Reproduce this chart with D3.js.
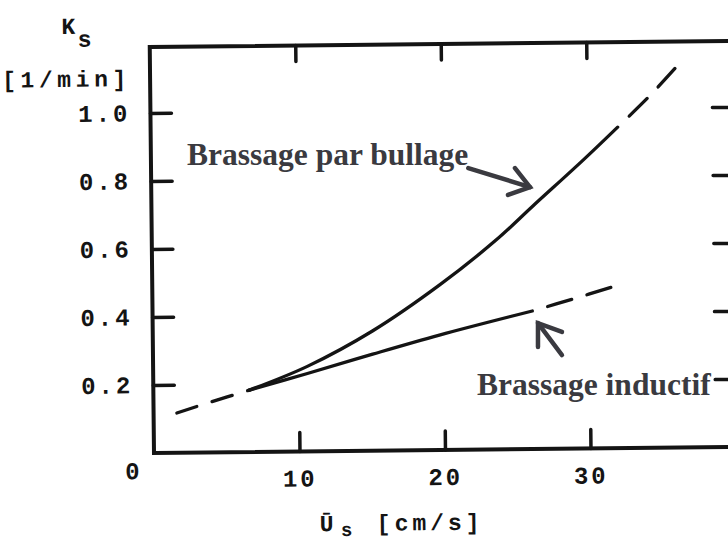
<!DOCTYPE html>
<html>
<head>
<meta charset="utf-8">
<script src="https://cdn.jsdelivr.net/npm/d3@7"></script>
<style>
  html, body { margin: 0; padding: 0; background: #fff; }
  svg { display: block; }
  .mono { font-family: "Liberation Mono", "DejaVu Sans Mono", monospace; font-weight: bold; fill: #141414; }
  .annot { font-family: "Liberation Serif", "Times New Roman", serif; font-weight: bold; fill: #3a3a40; }
</style>
</head>
<body>
<svg id="chart" width="728" height="542"></svg>
<script>
// ---------------- data ----------------
const xTicks = [10, 20, 30];
const xTickLabels = ["10", "20", "30"];
const yTicks = [0.2, 0.4, 0.6, 0.8, 1.0];
const yTickLabels = ["0.2", "0.4", "0.6", "0.8", "1.0"];

// common dashed start (extrapolation at low velocity)
const lowDashU = [1.6, 4.0, 6.6];
const lowDashK = [0.117, 0.149, 0.182];

// "Brassage par bullage" (gas stirring) - measured part
const bullageU = [6.6, 10.6, 15.1, 19.8, 23.7, 26.2, 29.7, 32.1];
const bullageK = [0.182, 0.250, 0.352, 0.487, 0.617, 0.714, 0.848, 0.944];
// extrapolated part
const bullageDashU = [32.1, 34.3, 36.3];
const bullageDashK = [0.944, 1.034, 1.125];

// "Brassage inductif" (induction stirring) - measured part
const inductifU = [6.6, 10.6, 15.1, 19.7, 26.1];
const inductifK = [0.182, 0.229, 0.284, 0.338, 0.406];
// extrapolated part
const inductifDashU = [26.1, 28.9, 31.6];
const inductifDashK = [0.406, 0.440, 0.474];

const xDomain = [0, 40];
const yDomain = [0, 1.194];

// annotations (data coordinates)
const annotBullage = { text: "Brassage par bullage", u: 2.27, k: 0.847,
  tail: [21.6, 0.838], tip: [25.84, 0.782], arm1: [24.81, 0.838], arm2: [24.33, 0.759] };
const annotInductif = { text: "Brassage inductif", u: 22.2, k: 0.171,
  tail: [28.04, 0.288], tip: [26.39, 0.382], arm1: [28.04, 0.356], arm2: [26.39, 0.312] };

// ---------------- drawing ----------------
const svg = d3.select("#chart");
svg.append("rect").attr("width", 728).attr("height", 542).attr("fill", "#fff");

const x = d3.scaleLinear().domain(xDomain).range([154, 736]);
const y = d3.scaleLinear().domain(yDomain).range([453, 47]);

// scanned figure is slightly rotated
const g = svg.append("g")
  .attr("transform", `rotate(-0.6, ${x(0)}, ${y(0)})`);

const ink = "#141414";

// frame
g.append("rect")
  .attr("x", x(xDomain[0])).attr("y", y(yDomain[1]))
  .attr("width", x(xDomain[1]) - x(xDomain[0]))
  .attr("height", y(yDomain[0]) - y(yDomain[1]))
  .attr("fill", "none").attr("stroke", ink).attr("stroke-width", 4);

function styleAxis(sel) {
  sel.select(".domain").remove();
  sel.selectAll(".tick line").attr("stroke", ink).attr("stroke-width", 3.5).attr("stroke-linecap", "round");
  sel.selectAll(".tick text").attr("class", "mono")
    .style("font-size", "24px").style("letter-spacing", "3px").attr("fill", ink);
}

// left axis
g.append("g").attr("transform", `translate(${x(0)},0)`)
  .call(d3.axisLeft(y).tickValues(yTicks).tickFormat((d, i) => yTickLabels[i])
    .tickSize(-21).tickSizeOuter(0).tickPadding(20))
  .call(styleAxis);

// bottom axis
g.append("g").attr("transform", `translate(0,${y(0)})`)
  .call(d3.axisBottom(x).tickValues(xTicks).tickFormat((d, i) => xTickLabels[i])
    .tickSize(-19).tickSizeOuter(0).tickPadding(18))
  .call(styleAxis);

// top axis
g.append("g").attr("transform", `translate(0,${y(yDomain[1])})`)
  .call(d3.axisTop(x).tickValues(xTicks).tickFormat("").tickSize(-16).tickSizeOuter(0))
  .call(styleAxis);

// right axis
g.append("g").attr("transform", `translate(${x(xDomain[1])},0)`)
  .call(d3.axisRight(y).tickValues(yTicks).tickFormat("").tickSize(-20).tickSizeOuter(0))
  .call(styleAxis);

// origin label
g.append("text").attr("class", "mono")
  .attr("x", x(0) - 29).attr("y", y(0) + 26)
  .style("font-size", "24px")
  .text("0");

// y-axis title
const yt = g.append("text").attr("class", "mono").style("font-size", "23px");
yt.append("tspan").attr("x", x(0) - 88).attr("y", y(0) - 420).text("K");
yt.append("tspan").attr("x", x(0) - 72).attr("y", y(0) - 407).text("s");
g.append("text").attr("class", "mono")
  .attr("x", x(0) - 148).attr("y", y(0) - 367)
  .style("font-size", "23px").style("letter-spacing", "4.6px")
  .text("[1/min]");

// x-axis title
g.append("text").attr("class", "mono")
  .attr("x", x(0) + 165).attr("y", y(0) + 80)
  .style("font-size", "23px").text("\u016A");
g.append("text").attr("class", "mono")
  .attr("x", x(0) + 186).attr("y", y(0) + 85)
  .style("font-size", "19px").text("s");
g.append("text").attr("class", "mono")
  .attr("x", x(0) + 222).attr("y", y(0) + 80)
  .style("font-size", "23px").style("letter-spacing", "4px")
  .text("[cm/s]");

// curves
const line = d3.line().x(d => x(d[0])).y(d => y(d[1])).curve(d3.curveCatmullRom.alpha(0.5));

function drawCurve(us, ks, dash, offset) {
  const p = g.append("path")
    .datum(d3.zip(us, ks))
    .attr("d", line)
    .attr("fill", "none")
    .attr("stroke", ink)
    .attr("stroke-width", 3.3)
    .attr("stroke-linecap", "round")
    .attr("stroke-linejoin", "round");
  if (dash) p.attr("stroke-dasharray", dash).attr("stroke-dashoffset", offset || 0);
  return p;
}

drawCurve(lowDashU, lowDashK, "21 16", 0);
drawCurve(bullageU, bullageK);
drawCurve(bullageDashU, bullageDashK, "25 16", 25);
drawCurve(inductifU, inductifK);
drawCurve(inductifDashU, inductifDashK, "25 16", 25);

// annotations (not part of the scanned, rotated figure)
const annotColor = "#3a3a40";
const aLine = d3.line().x(d => x(d[0])).y(d => y(d[1]));
[annotBullage, annotInductif].forEach(a => {
  svg.append("text").attr("class", "annot")
    .attr("x", x(a.u)).attr("y", y(a.k))
    .style("font-size", "31.5px")
    .text(a.text);
  svg.append("path").attr("d", aLine([a.tail, a.tip]))
    .attr("fill", "none").attr("stroke", annotColor).attr("stroke-width", 4.5)
    .attr("stroke-linecap", "round");
  svg.append("path").attr("d", aLine([a.arm1, a.tip, a.arm2]))
    .attr("fill", "none").attr("stroke", annotColor).attr("stroke-width", 4.5)
    .attr("stroke-linecap", "round").attr("stroke-linejoin", "miter");
});
</script>
</body>
</html>
